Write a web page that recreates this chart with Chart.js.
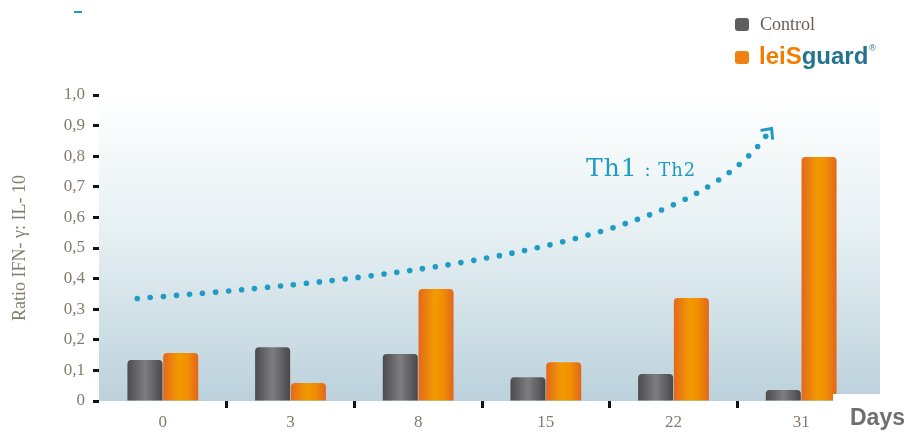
<!DOCTYPE html>
<html>
<head>
<meta charset="utf-8">
<script src="https://cdn.jsdelivr.net/npm/chart.js@4.4.0/dist/chart.umd.min.js"></script>
<style>
  html, body { margin: 0; padding: 0; background: #fff; }
  #wrap { width: 910px; height: 433px; position: relative; }
</style>
</head>
<body>
<div id="wrap"><canvas id="chart-canvas"></canvas></div>
<script>
const ctx = document.getElementById('chart-canvas');

// Data
const days = ['0', '3', '8', '15', '22', '31'];
const control = [0.134, 0.176, 0.154, 0.078, 0.088, 0.036];
const leisguard = [0.157, 0.059, 0.366, 0.127, 0.337, 0.797];
const y_ticks = ['0', '0,1', '0,2', '0,3', '0,4', '0,5', '0,6', '0,7', '0,8', '0,9', '1,0'];

// Th1 : Th2 trend arrow, in (category index, value) space
const trend_curve = [[-0.2, 0.335], [2.5, 0.42], [4.2, 0.55], [4.74, 0.875]];

const TEAL = '#1f9cc3';
const AXIS_TEXT = '#857a6e';
const SERIF = '"Liberation Serif", "DejaVu Serif", serif';

// cylinder look for bars
const bar_shading = {
  id: 'bar_shading',
  beforeDatasetsDraw(chart) {
    const c = chart.ctx;
    chart.data.datasets.forEach((ds, di) => {
      const meta = chart.getDatasetMeta(di);
      meta.data.forEach(el => {
        const { x, width } = el.getProps(['x', 'width'], true);
        const g = c.createLinearGradient(x - width / 2, 0, x + width / 2, 0);
        if (di === 0) {
          g.addColorStop(0, '#4b4b4e');
          g.addColorStop(0.5, '#7e7e81');
          g.addColorStop(1, '#48484b');
        } else {
          g.addColorStop(0, '#e4681c');
          g.addColorStop(0.45, '#f39a00');
          g.addColorStop(0.7, '#f08e04');
          g.addColorStop(1, '#e2661c');
        }
        el.options.backgroundColor = g;
      });
    });
  }
};

const plot_bg = {
  id: 'plot_bg',
  beforeDraw(chart) {
    const { ctx: c, chartArea: a } = chart;
    c.save();
    const g = c.createLinearGradient(0, a.top, 0, a.bottom);
    g.addColorStop(0, '#ffffff');
    g.addColorStop(0.45, '#e6f0f3');
    g.addColorStop(1, '#bcd1dc');
    c.fillStyle = g;
    c.fillRect(a.left, a.top + 2, a.right + 15 - a.left, a.bottom - a.top - 2);
    c.restore();
  }
};

function bezier(p, t) {
  const u = 1 - t;
  return [
    u * u * u * p[0][0] + 3 * u * u * t * p[1][0] + 3 * u * t * t * p[2][0] + t * t * t * p[3][0],
    u * u * u * p[0][1] + 3 * u * u * t * p[1][1] + 3 * u * t * t * p[2][1] + t * t * t * p[3][1]
  ];
}

const extras = {
  id: 'extras',
  afterDraw(chart) {
    const c = chart.ctx;
    const xs = chart.scales.x, ys = chart.scales.y;
    const pts = trend_curve.map(p => [xs.getPixelForValue(p[0]), ys.getPixelForValue(p[1])]);

    // dotted curve
    c.save();
    c.fillStyle = TEAL;
    let prev = bezier(pts, 0), acc = 0;
    c.beginPath(); c.arc(prev[0], prev[1], 2.8, 0, Math.PI * 2); c.fill();
    for (let i = 1; i <= 2000; i++) {
      const p = bezier(pts, i / 2000);
      acc += Math.hypot(p[0] - prev[0], p[1] - prev[1]);
      prev = p;
      if (acc >= 12.8) {
        acc = 0;
        c.beginPath(); c.arc(p[0], p[1], 2.8, 0, Math.PI * 2); c.fill();
      }
    }
    // arrow head
    const tip = bezier(pts, 1), back = bezier(pts, 0.97);
    const ang = Math.atan2(tip[1] - back[1], tip[0] - back[0]);
    const hx = tip[0] + Math.cos(ang) * 6, hy = tip[1] + Math.sin(ang) * 6;
    c.strokeStyle = TEAL;
    c.lineWidth = 3;
    c.lineCap = 'round';
    c.beginPath();
    c.moveTo(hx + Math.cos(ang + 2.4) * 10, hy + Math.sin(ang + 2.4) * 10);
    c.lineTo(hx, hy);
    c.lineTo(hx + Math.cos(ang - 2.4) * 10, hy + Math.sin(ang - 2.4) * 10);
    c.stroke();

    // Th1 : Th2
    c.textBaseline = 'alphabetic';
    c.textAlign = 'left';
    c.font = '25px "DejaVu Serif", serif';
    c.letterSpacing = '1px';
    c.fillText('Th1', 586, 176);
    let w = c.measureText('Th1').width;
    c.font = '18px "DejaVu Serif", serif';
    c.fillText(' : Th2', 586 + w, 176);
    c.letterSpacing = '0px';

    // little mark top-left
    c.fillRect(74, 11, 8, 2);
    c.restore();

    // legend
    c.save();
    c.fillStyle = '#5e5e61';
    c.beginPath(); c.roundRect(735, 18, 14, 13, 3); c.fill();
    c.fillStyle = '#ef8210';
    c.beginPath(); c.roundRect(735, 51, 14, 13, 3); c.fill();
    c.fillStyle = '#6a5f55';
    c.font = '18px ' + SERIF;
    c.textBaseline = 'middle';
    c.fillText('Control', 760, 25);
    c.font = 'bold 24px "Liberation Sans", Arial, sans-serif';
    c.fillStyle = '#f07d00';
    c.fillText('leiS', 759, 57);
    w = c.measureText('leiS').width;
    c.fillStyle = '#23748f';
    c.fillText('guard', 759 + w, 57);
    const w2 = c.measureText('guard').width;
    c.font = '9px "Liberation Sans", Arial, sans-serif';
    c.fillText('®', 759 + w + w2 + 1, 49);

    // Days
    c.fillStyle = '#ffffff';
    c.fillRect(833, 394, 77, 39);
    c.fillStyle = '#6f6f6f';
    c.font = 'bold 23px "Liberation Sans", Arial, sans-serif';
    c.fillText('Days', 850, 419);
    c.restore();
  }
};

const chart = new Chart(ctx, {
  type: 'bar',
  data: {
    labels: days,
    datasets: [
      {
        label: 'Control',
        data: control,
        backgroundColor: () => '#5e5e61',
        borderRadius: { topLeft: 4, topRight: 4 },
        borderSkipped: 'bottom',
        barPercentage: 0.98,
        categoryPercentage: 0.56
      },
      {
        label: 'leisguard',
        data: leisguard,
        backgroundColor: () => '#f08e04',
        borderRadius: { topLeft: 4, topRight: 4 },
        borderSkipped: 'bottom',
        barPercentage: 0.98,
        categoryPercentage: 0.56
      }
    ]
  },
  plugins: [plot_bg, bar_shading, extras],
  options: {
    responsive: true,
    maintainAspectRatio: false,
    animation: false,
    layout: { padding: { top: 95, right: 45, left: 0, bottom: 0 } },
    plugins: {
      legend: { display: false },
      tooltip: { enabled: false }
    },
    scales: {
      x: {
        afterFit: s => { s.height = 32; },
        border: { display: false },
        grid: {
          offset: true,
          drawOnChartArea: false,
          drawTicks: true,
          tickLength: 7,
          tickWidth: 3,
          tickColor: c => (c.index === 0 || c.index === days.length) ? 'rgba(0,0,0,0)' : '#111'
        },
        ticks: {
          color: AXIS_TEXT,
          padding: 4,
          font: { family: SERIF, size: 17 }
        }
      },
      y: {
        min: 0,
        max: 1,
        afterFit: s => { s.width = 99; },
        border: { display: false },
        grid: {
          drawOnChartArea: false,
          drawTicks: true,
          tickLength: 6,
          tickWidth: 3,
          tickColor: '#111'
        },
        ticks: {
          stepSize: 0.1,
          color: AXIS_TEXT,
          padding: 8,
          font: { family: SERIF, size: 17 }
        , callback: (v, i) => y_ticks[i]
        },
        title: {
          display: true,
          text: 'Ratio IFN- γ: IL- 10',
          color: AXIS_TEXT,
          padding: { top: 9, bottom: 0 },
          font: { family: SERIF, size: 18 }
        }
      }
    }
  }
});
</script>
</body>
</html>
